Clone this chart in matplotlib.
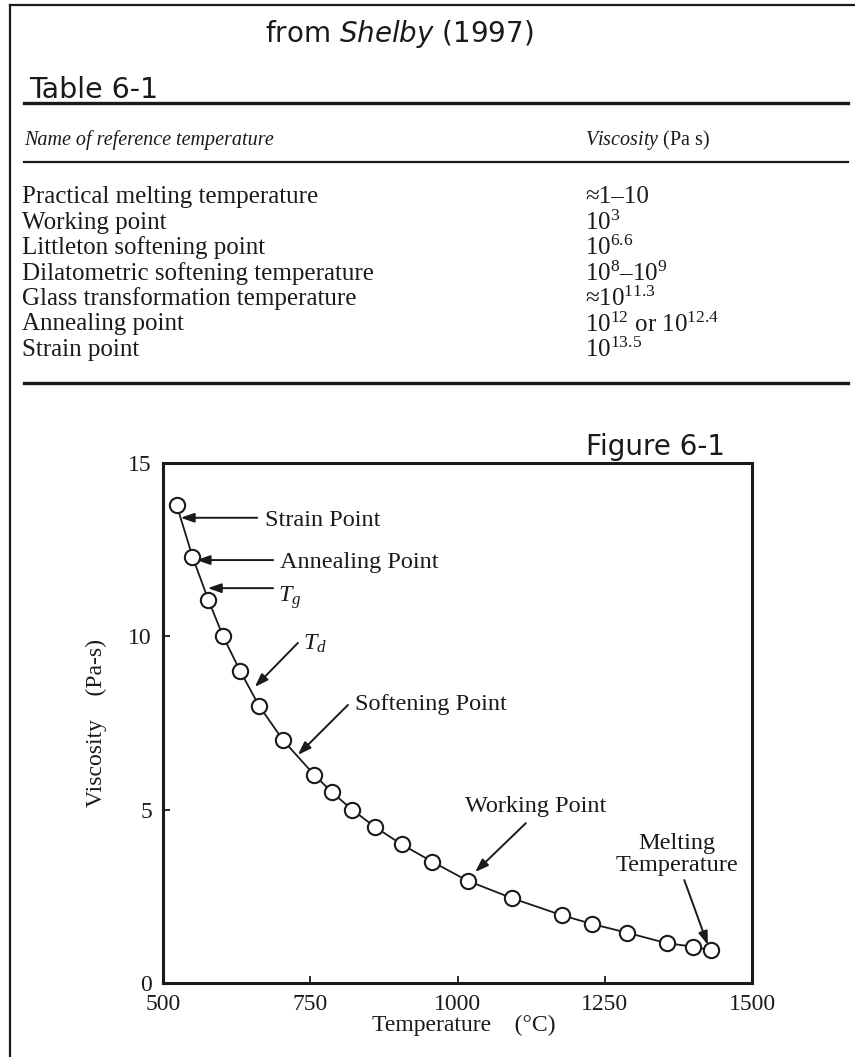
import matplotlib
matplotlib.use("Agg")
import matplotlib.pyplot as plt
from matplotlib.lines import Line2D

plt.rcParams['font.family'] = 'Liberation Serif'
plt.rcParams['mathtext.fontset'] = 'custom'
plt.rcParams['mathtext.rm'] = 'Liberation Serif'
plt.rcParams['mathtext.it'] = 'Liberation Serif:italic'
plt.rcParams['mathtext.sf'] = 'DejaVu Sans:italic'

W, H = 855, 1057
INK = '#1a1a1a'

# Table 6-1
ref_names = ['Practical melting temperature', 'Working point',
             'Littleton softening point', 'Dilatometric softening temperature',
             'Glass transformation temperature', 'Annealing point', 'Strain point']
ref_viscosity = ['\u22481\u201310', '$10^{3}$', '$10^{6.6}$', '$10^{8}$\u2013$10^{9}$',
                 '\u2248$10^{11.3}$', '$10^{12}$ or $10^{12.4}$', '$10^{13.5}$']

# Figure 6-1 (viscosity as log10 of Pa s)
temperature = [523, 550, 577, 602, 631, 663, 704, 757, 787, 821, 860,
               905, 957, 1017, 1092, 1178, 1229, 1288, 1355, 1399, 1430]
viscosity = [13.8, 12.3, 11.05, 10.0, 9.0, 8.0, 7.0, 6.0, 5.5, 5.0, 4.5,
             4.0, 3.5, 2.95, 2.45, 1.95, 1.7, 1.45, 1.15, 1.05, 0.95]

ann_labels = ['Strain Point', 'Annealing Point', '$T_g$', '$T_d$',
              'Softening Point', 'Working Point', 'Melting\nTemperature']
ann_tip_t = [530, 557, 576, 656, 729, 1030, 1425]
ann_tip_v = [13.42, 12.2, 11.39, 8.54, 6.58, 3.2, 1.1]
ann_tail_t = [660, 687, 687, 729, 814, 1116, 1385]
ann_tail_v = [13.42, 12.2, 11.39, 9.81, 8.02, 4.61, 2.97]
ann_text_t = [673, 699, 695, 738, 826, 1132, 1373]
ann_text_v = [13.35, 12.14, 11.13, 9.78, 8.02, 5.08, 3.7]
ann_ha = ['left', 'left', 'left', 'left', 'left', 'center', 'center']


def fpos(x, y):
    # pixel position -> figure fraction
    return x / W, 1 - y / H


fig = plt.figure(figsize=(8.55, 10.57), dpi=100)

# page frame
fig.add_artist(Line2D([10 / W, 10 / W], [0, 1 - 5 / H], lw=1.6, color=INK))
fig.add_artist(Line2D([10 / W, 1], [1 - 5 / H, 1 - 5 / H], lw=1.6, color=INK))

fig.text(*fpos(265, 42), 'from $\\mathsf{Shelby}$ (1997)', family='DejaVu Sans',
         fontsize=20, ha='left', va='baseline', color=INK)
fig.text(*fpos(29, 98), 'Table 6-1', family='DejaVu Sans', fontsize=20.5,
         ha='left', va='baseline', color=INK)

# table rules
for y, lw in [(103, 2.4), (162, 1.6), (383, 2.4)]:
    fig.add_artist(Line2D([24 / W, 848 / W], [1 - y / H] * 2, lw=lw, color=INK))

fig.text(*fpos(24, 140), 'Name of reference temperature', style='italic',
         fontsize=14.5, ha='left', va='center', color=INK)
fig.text(*fpos(585, 140), '$\\mathit{Viscosity}$ (Pa s)', fontsize=14.5,
         ha='left', va='center', color=INK)
for i, (name, visc) in enumerate(zip(ref_names, ref_viscosity)):
    y = 197 + 25.5 * i
    fig.text(*fpos(22, y), name, fontsize=18, ha='left', va='center', color=INK)
    fig.text(*fpos(585, y), visc, fontsize=18, ha='left', va='center', color=INK)

fig.text(*fpos(586, 455), 'Figure 6-1', family='DejaVu Sans', fontsize=20,
         ha='left', va='baseline', color=INK)

# chart
ax = fig.add_axes([163 / W, 1 - 983 / H, 589 / W, 520 / H])
ax.plot(temperature, viscosity, '-', color=INK, lw=1.3, marker='o', ms=11,
        mfc='white', mec=INK, mew=1.5, zorder=3)
ax.set_xlim(500, 1500)
ax.set_ylim(0, 15)
ax.set_xticks([500, 750, 1000, 1250, 1500])
ax.set_yticks([0, 5, 10, 15])
ax.tick_params(direction='in', length=5, width=1.3, labelsize=17, pad=8,
               colors=INK)
for s in ax.spines.values():
    s.set_linewidth(2.2)
    s.set_color(INK)

ax.set_xlabel('Temperature    (\u00b0C)', fontsize=17, color=INK)
ax.set_ylabel('Viscosity    (Pa-s)', fontsize=17, color=INK)
ax.xaxis.set_label_coords(0.51, -0.062)
ax.yaxis.set_label_coords(-0.095, 0.5)

for lab, tt, tv, st, sv, xt, xv, ha in zip(ann_labels, ann_tip_t, ann_tip_v,
                                          ann_tail_t, ann_tail_v, ann_text_t,
                                          ann_text_v, ann_ha):
    ax.annotate('', xy=(tt, tv), xytext=(st, sv),
                arrowprops=dict(arrowstyle='-|>,head_length=0.8,head_width=0.28',
                                mutation_scale=10, lw=1.4, color=INK,
                                shrinkA=0, shrinkB=0))
    ax.text(xt, xv, lab, fontsize=17.5, ha=ha, va='center', color=INK,
            linespacing=1.05)

fig.savefig('out.png', dpi=100)
